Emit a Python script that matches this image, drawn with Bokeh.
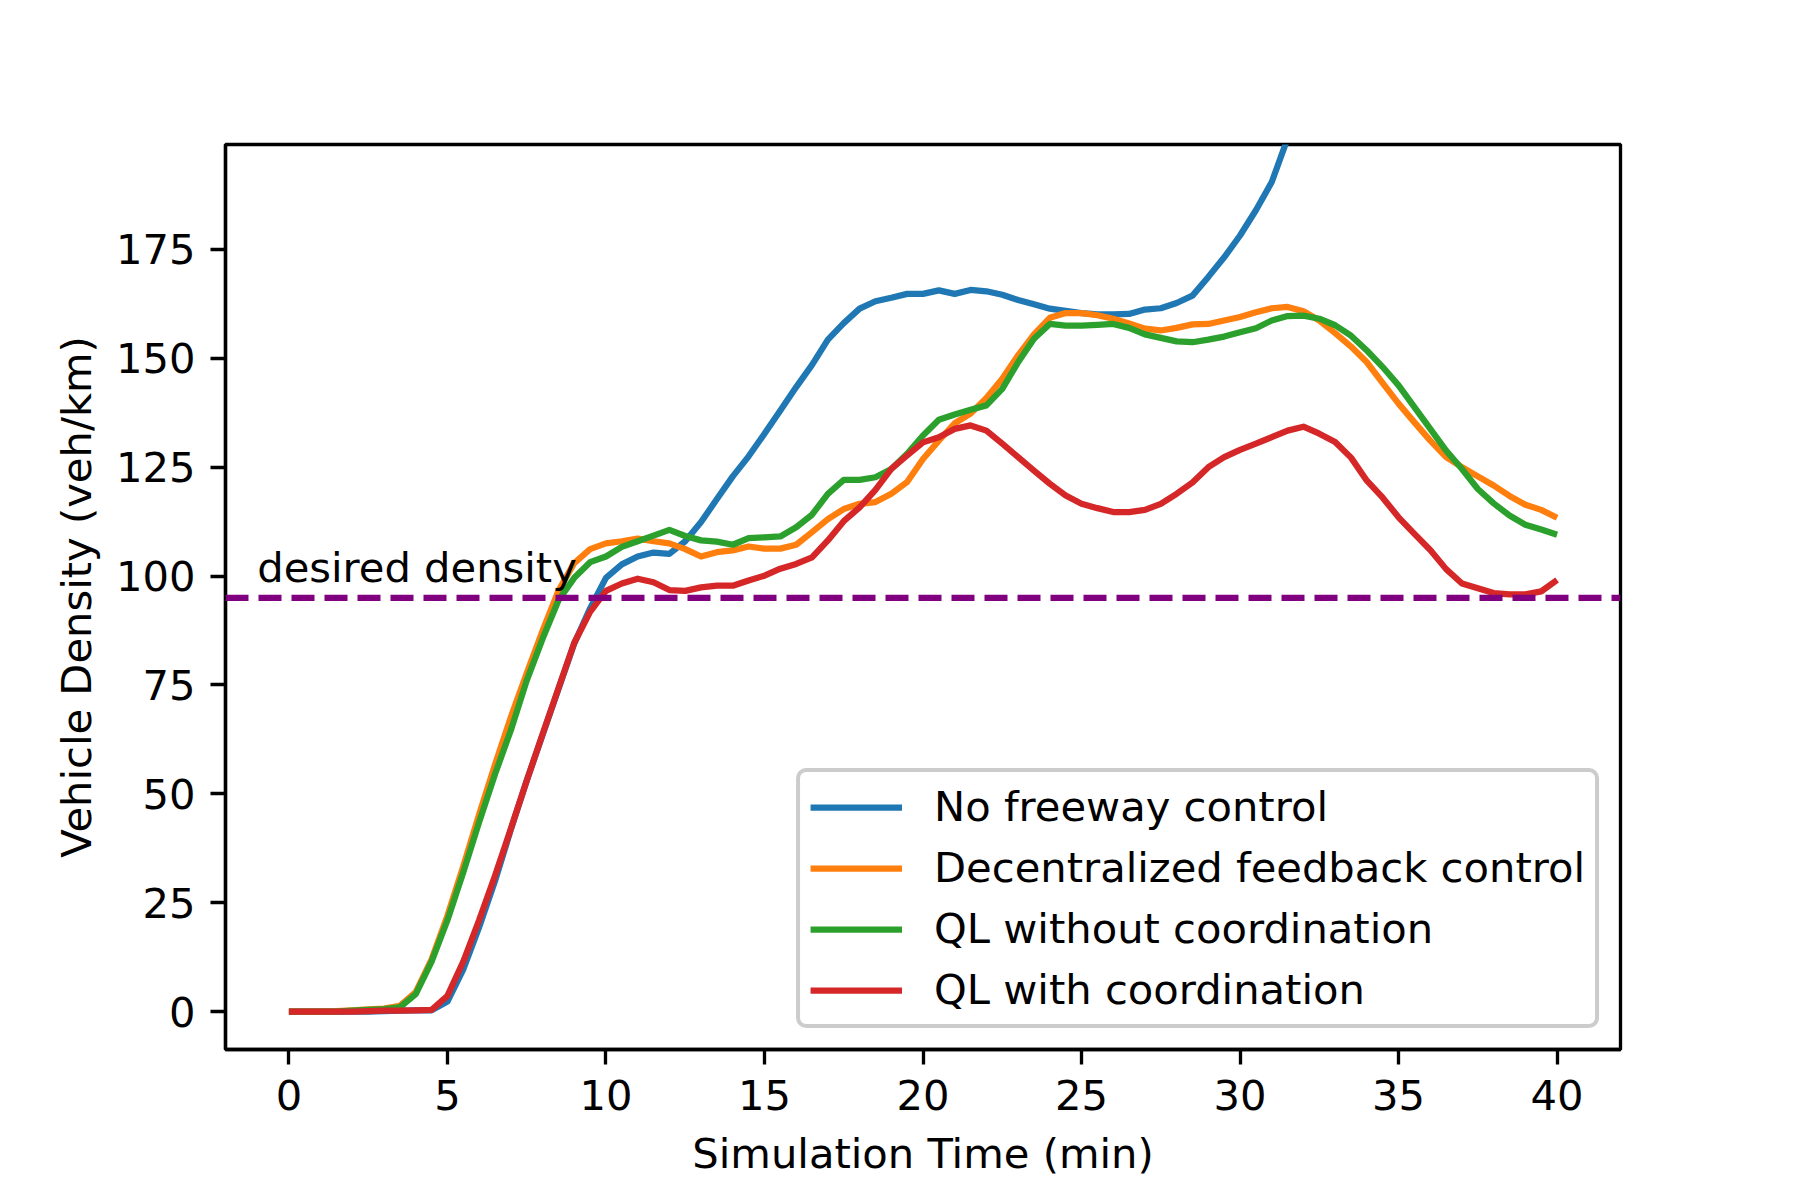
from bokeh.plotting import figure
from bokeh.models import Range1d, FixedTicker, Span
from bokeh.core.properties import value
from bokeh.embed import file_html
from bokeh.resources import INLINE

# ---- data (vehicle density, veh/km, sampled every 0.5 min) ----
no_control = [0, 0, 0, 0, 0, 0, 0.1, 0.2, 0.3, 0.3,
              2.3, 9.7, 19.4, 30.0, 41.8, 53.0, 63.5, 74.0, 84.5, 92.6,
              99.6, 102.7, 104.5, 105.4, 105.1, 108.0, 112.4, 117.7, 122.9, 127.5,
              132.7, 138.0, 143.4, 148.5, 154.3, 158.1, 161.4, 163.1, 163.9, 164.8,
              164.8, 165.6, 164.8, 165.7, 165.4, 164.6, 163.4, 162.4, 161.4, 160.9,
              160.4, 160.1, 160.1, 160.2, 161.2, 161.5, 162.7, 164.4, 168.7, 173.2,
              178.2, 184.0, 190.5, 200.5, 211.0, 220.0, 229.0, 237.0, 245.0, 252.0,
              259.0, 265.0, 271.0, 276.0, 281.0, 285.0, 289.0, 292.0, 295.0, 297.0,
              299.0]
decentralized = [0, 0, 0, 0.1, 0.3, 0.5, 0.7, 1.3, 4.5, 12.0,
                 22.0, 33.4, 45.3, 56.7, 67.6, 77.7, 87.4, 96.6, 103.0, 106.2,
                 107.5, 108.0, 108.6, 108.0, 107.5, 106.2, 104.5, 105.5, 105.9, 106.8,
                 106.3, 106.3, 107.2, 110.1, 113.1, 115.4, 116.6, 117.0, 118.9, 121.6,
                 126.9, 131.1, 135.1, 137.3, 140.9, 145.3, 150.7, 155.5, 159.3, 160.4,
                 160.4, 159.9, 159.1, 158.0, 156.8, 156.4, 157.0, 157.8, 157.9, 158.7,
                 159.5, 160.6, 161.5, 161.8, 160.8, 158.7, 155.8, 152.7, 149.1, 144.3,
                 139.6, 135.3, 131.1, 127.3, 125.0, 122.9, 120.8, 118.4, 116.4, 115.2,
                 113.4]
ql_no_coord = [0, 0, 0, 0, 0.2, 0.4, 0.6, 1.0, 4.0, 11.5,
               21.0, 32.0, 43.5, 54.5, 64.6, 76.0, 85.6, 94.4, 99.6, 103.2,
               104.5, 106.7, 108.0, 109.3, 110.6, 109.2, 108.2, 107.9, 107.2, 108.7,
               108.9, 109.1, 111.2, 114.1, 118.9, 122.1, 122.1, 122.7, 124.6, 128.1,
               132.3, 135.9, 137.1, 138.2, 139.2, 143.0, 149.1, 154.5, 157.9, 157.5,
               157.5, 157.7, 157.9, 157.0, 155.5, 154.7, 153.9, 153.7, 154.3, 155.0,
               156.0, 156.9, 158.7, 159.7, 159.8, 159.1, 157.6, 155.2, 151.8, 148.0,
               143.8, 138.8, 133.8, 128.8, 124.6, 120.0, 116.7, 113.9, 111.8, 110.7,
               109.5]
ql_coord = [0, 0, 0, 0, 0, 0.1, 0.2, 0.2, 0.3, 0.4,
            3.6, 11.5, 21.0, 31.2, 42.0, 53.0, 63.7, 74.2, 84.7, 91.8,
            96.6, 98.3, 99.4, 98.6, 96.8, 96.6, 97.4, 97.8, 97.8, 99.0,
            100.1, 101.7, 102.8, 104.3, 108.2, 112.6, 115.8, 119.8, 124.6, 127.7,
            130.7, 131.9, 133.8, 134.6, 133.4, 130.4, 127.3, 124.2, 121.2, 118.5,
            116.6, 115.6, 114.7, 114.7, 115.2, 116.6, 118.9, 121.5, 125.0, 127.3,
            129.0, 130.4, 131.9, 133.4, 134.3, 132.7, 130.8, 127.2, 121.9, 118.0,
            113.5, 109.7, 106.0, 101.6, 98.3, 97.2, 96.1, 95.8, 95.8, 96.5,
            99.1]
time_min = [i * 0.5 for i in range(len(no_control))]

series_labels = ["No freeway control", "Decentralized feedback control",
                 "QL without coordination", "QL with coordination"]
series_colors = ["#1f77b4", "#ff7f0e", "#2ca02c", "#d62728"]
desired_density = 95
x_ticks = [0, 5, 10, 15, 20, 25, 30, 35, 40]
y_ticks = [0, 25, 50, 75, 100, 125, 150, 175]

FONT = "DejaVu Sans"
FS = "41.67px"

p = figure(width=1792, height=1192, output_backend="svg", toolbar_location=None,
           x_range=Range1d(-2, 42), y_range=Range1d(-8.7, 199.1),
           min_border_left=225, min_border_right=172,
           min_border_top=144, min_border_bottom=143)
p.xgrid.visible = False
p.ygrid.visible = False
p.background_fill_color = "white"
p.border_fill_color = "white"
p.outline_line_color = "black"
p.outline_line_width = 3.33
p.outline_line_alpha = 1.0

for ax, ticks in ((p.xaxis[0], x_ticks), (p.yaxis[0], y_ticks)):
    ax.ticker = FixedTicker(ticks=ticks)
    ax.minor_tick_line_color = None
    ax.major_tick_in = 0
    ax.major_tick_out = 15
    ax.major_tick_line_width = 3.33
    ax.axis_line_width = 3.33
    ax.major_label_text_font = FONT
    ax.major_label_text_font_size = FS
    ax.major_label_text_color = "black"
    ax.major_label_standoff = 15
    ax.axis_label_text_font = FONT
    ax.axis_label_text_font_size = FS
    ax.axis_label_text_font_style = "normal"
    ax.axis_label_text_color = "black"

p.xaxis.axis_label = "Simulation Time (min)"
p.yaxis.axis_label = "Vehicle Density (veh/km)"
p.xaxis.axis_label_standoff = 16
p.yaxis.axis_label_standoff = 12

series = [no_control, decentralized, ql_no_coord, ql_coord]
for vals, lab, col in zip(series, series_labels, series_colors):
    p.line(time_min, vals, line_color=col, line_width=6.25, line_join="round",
           legend_label=lab)

span = Span(location=desired_density, dimension="width", line_color="#800080",
            line_width=6.25, line_dash="23 10")
p.add_layout(span)

p.text(x=[-1], y=[102], text=["desired density"], text_font=value(FONT),
       text_font_size=value(FS), text_color="black", text_align="left",
       text_baseline="alphabetic")

lg = p.legend[0]
lg.location = "bottom_right"
lg.margin = 21
lg.padding = 10
lg.spacing = 12
lg.glyph_width = 92
lg.glyph_height = 48
lg.label_height = 48
lg.label_standoff = 32
lg.label_text_font = FONT
lg.label_text_font_size = FS
lg.label_text_color = "black"
lg.border_line_color = "#cccccc"
lg.border_line_width = 4
lg.border_line_alpha = 1.0
lg.background_fill_alpha = 0.8
if "border_radius" in lg.properties():
    lg.border_radius = 10

open("out.html", "w").write(file_html(p, INLINE))
